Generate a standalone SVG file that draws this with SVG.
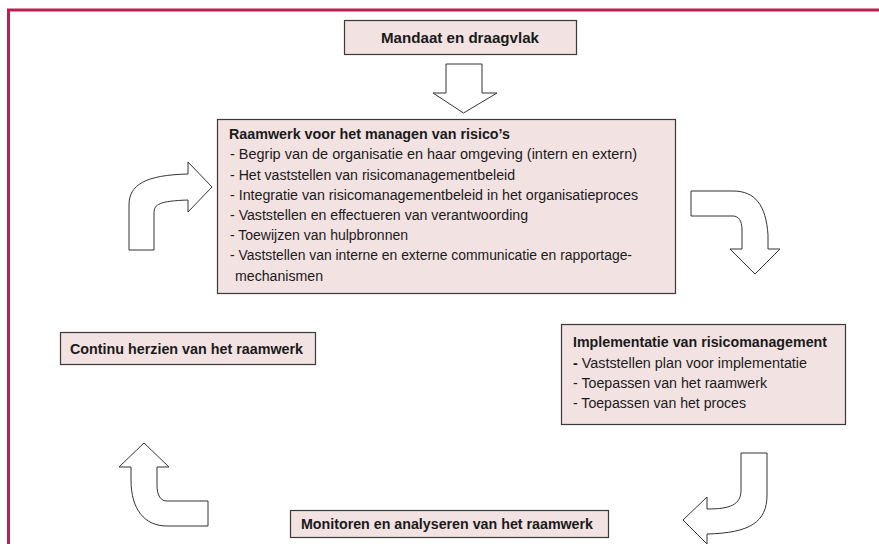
<svg xmlns="http://www.w3.org/2000/svg" width="879" height="544" viewBox="0 0 879 544">
<style>
.box{fill:#f2e2e2;stroke:#3a3a3a;stroke-width:1.2}
.arr{fill:#ffffff;stroke:#333333;stroke-width:1}
.t{font-family:"Liberation Sans Narrow","Liberation Sans",Arial,sans-serif;font-size:15.5px;fill:#1a1a1a}
.b{font-weight:bold}
</style>
<rect x="0" y="0" width="879" height="544" fill="#ffffff"/>
<g id="frame">
<path d="M8.5,544 L8.5,10 L879,10" fill="none" stroke="#b8214f" stroke-width="3"/>
</g>
<g id="node-mandaat">
<rect class="box" x="344.5" y="20.5" width="232" height="34"/>
<text class="t b" x="381" y="42.5" textLength="158" lengthAdjust="spacingAndGlyphs">Mandaat en draagvlak</text>
</g>
<g id="node-raamwerk">
<rect class="box" x="217.5" y="119.5" width="458" height="174"/>
<text class="t b" x="229" y="139" textLength="281" lengthAdjust="spacingAndGlyphs">Raamwerk voor het managen van risico’s</text>
<text class="t" x="230" y="159.3" textLength="407" lengthAdjust="spacingAndGlyphs">- Begrip van de organisatie en haar omgeving (intern en extern)</text>
<text class="t" x="230" y="179.5" textLength="285" lengthAdjust="spacingAndGlyphs">- Het vaststellen van risicomanagementbeleid</text>
<text class="t" x="230" y="199.7" textLength="408" lengthAdjust="spacingAndGlyphs">- Integratie van risicomanagementbeleid in het organisatieproces</text>
<text class="t" x="230" y="219.9" textLength="298" lengthAdjust="spacingAndGlyphs">- Vaststellen en effectueren van verantwoording</text>
<text class="t" x="230" y="240.1" textLength="178" lengthAdjust="spacingAndGlyphs">- Toewijzen van hulpbronnen</text>
<text class="t" x="230" y="260.3" textLength="402" lengthAdjust="spacingAndGlyphs">- Vaststellen van interne en externe communicatie en rapportage-</text>
<text class="t" x="235" y="280.5" textLength="88" lengthAdjust="spacingAndGlyphs">mechanismen</text>
</g>
<g id="node-implementatie">
<rect class="box" x="561.5" y="324.5" width="284" height="100"/>
<text class="t b" x="573" y="347" textLength="254" lengthAdjust="spacingAndGlyphs">Implementatie van risicomanagement</text>
<text class="t" x="573" y="367.5" textLength="234" lengthAdjust="spacingAndGlyphs"><tspan class="b">-</tspan> Vaststellen plan voor implementatie</text>
<text class="t" x="573" y="387.5" textLength="194" lengthAdjust="spacingAndGlyphs">- Toepassen van het raamwerk</text>
<text class="t" x="573" y="407.5" textLength="173" lengthAdjust="spacingAndGlyphs">- Toepassen van het proces</text>
</g>
<g id="node-monitoren">
<rect class="box" x="290.5" y="510.5" width="318" height="27"/>
<text class="t b" x="301" y="529" textLength="292" lengthAdjust="spacingAndGlyphs">Monitoren en analyseren van het raamwerk</text>
</g>
<g id="node-continu">
<rect class="box" x="60.5" y="332.5" width="255" height="32"/>
<text class="t b" x="70" y="353.5" textLength="233" lengthAdjust="spacingAndGlyphs">Continu herzien van het raamwerk</text>
</g>
<g id="connectors">
<path class="arr" d="M446,64 L482,64 L482,93 L497,93 L463.5,113 L433,93 L446,93 Z"/>
<path class="arr" d="M129,250 L129,205 C129,185 145,175 188,174 L188,162 L212,187 L188,212 L188,200 C160,201 154,204 154,213 L154,250 Z"/>
<path class="arr" d="M691,191 L733,191 C755,191 766,205 768,235 L768,249 L780,249 L755,274 L730,249 L742,249 L742,230 C742,220 738,216 733,216 L691,216 Z"/>
<path class="arr" d="M741,453 L767,453 L767,495 C767,522 750,533 707,534 L707,544 L683,520 L707,497 L707,509 C730,509 741,505 741,490 Z"/>
<path class="arr" d="M144,443 L169,467 L157,467 L157,485 C157,496 161,501 167,501 L208,501 L208,526 L167,526 C145,526 131,510 131,480 L131,467 L119,467 Z"/>
</g>
</svg>
